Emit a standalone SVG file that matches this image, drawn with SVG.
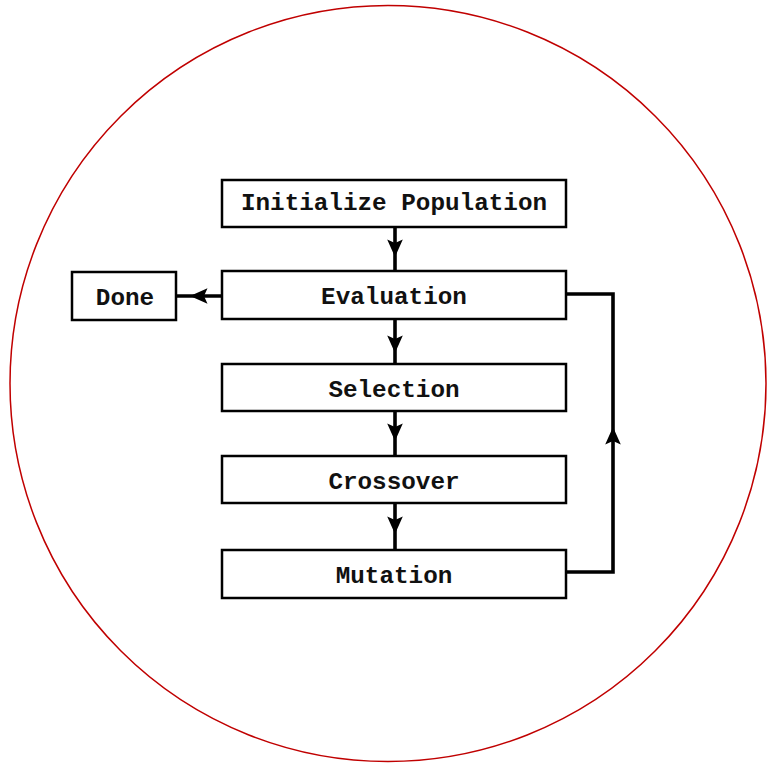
<svg xmlns="http://www.w3.org/2000/svg" width="770" height="767" viewBox="0 0 770 767">
<style>
.box{fill:#fff;stroke:#000;stroke-width:2.5}
.lbl{font-family:"Liberation Mono","Courier New",monospace;font-weight:bold;font-size:24.3px;fill:#111;text-anchor:middle}
.ln{fill:none;stroke:#000;stroke-width:3.6}
.ah{fill:#000}
</style>
<defs>
<path id="hd" d="M0,0 L-7.8,-17.5 L0,-14 L7.8,-17.5 Z"/>
</defs>
<rect width="770" height="767" fill="#fff"/>
<circle cx="388" cy="383.5" r="378" fill="none" stroke="#c00000" stroke-width="1.5"/>
<g id="connectors">
<line class="ln" x1="395" y1="227" x2="395" y2="271"/>
<use href="#hd" class="ah" transform="translate(395,257)"/>
<line class="ln" x1="395" y1="319" x2="395" y2="364"/>
<use href="#hd" class="ah" transform="translate(395,353)"/>
<line class="ln" x1="395" y1="411" x2="395" y2="456"/>
<use href="#hd" class="ah" transform="translate(395,441)"/>
<line class="ln" x1="395" y1="503" x2="395" y2="550"/>
<use href="#hd" class="ah" transform="translate(395,534)"/>
<line class="ln" x1="222" y1="296" x2="176" y2="296"/>
<use href="#hd" class="ah" transform="translate(190,296) rotate(90)"/>
<polyline class="ln" points="566,572 613,572 613,294 566,294"/>
<use href="#hd" class="ah" transform="translate(613,427) rotate(180)"/>
</g>
<g id="init"><rect class="box" x="222" y="180" width="344" height="47"/><text class="lbl" x="394" y="210">Initialize Population</text></g>
<g id="eval"><rect class="box" x="222" y="271" width="344" height="48"/><text class="lbl" x="394" y="304">Evaluation</text></g>
<g id="done"><rect class="box" x="72" y="272" width="104" height="48"/><text class="lbl" x="125" y="305">Done</text></g>
<g id="sel"><rect class="box" x="222" y="364" width="344" height="47"/><text class="lbl" x="394" y="397">Selection</text></g>
<g id="cross"><rect class="box" x="222" y="456" width="344" height="47"/><text class="lbl" x="394" y="489">Crossover</text></g>
<g id="mut"><rect class="box" x="222" y="550" width="344" height="48"/><text class="lbl" x="394" y="583">Mutation</text></g>
</svg>
